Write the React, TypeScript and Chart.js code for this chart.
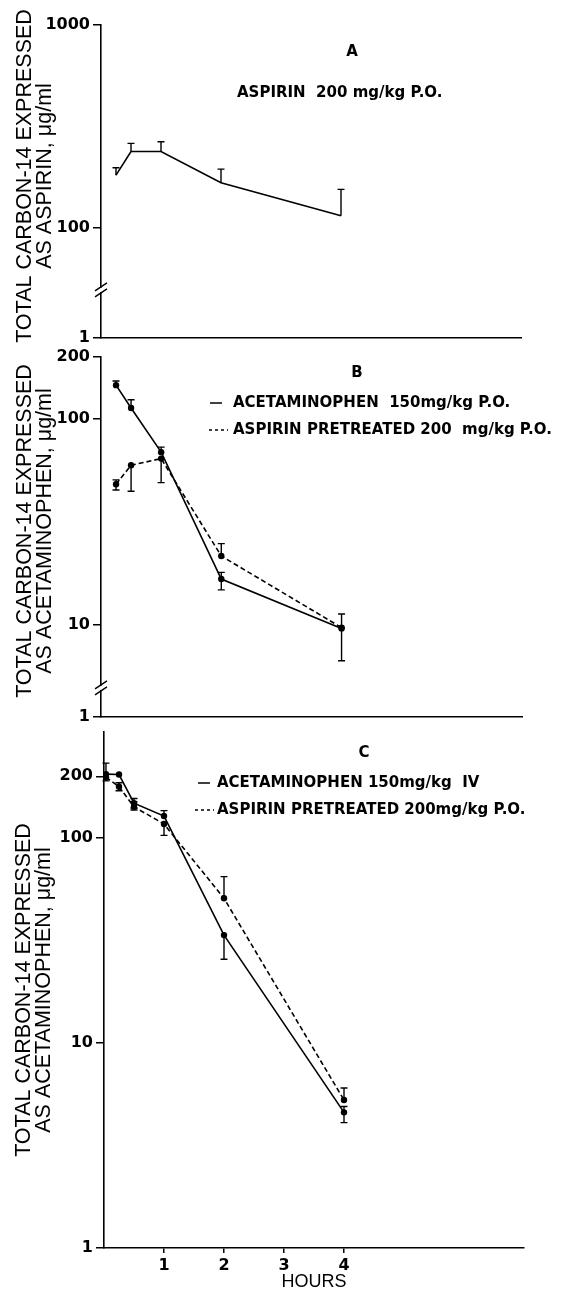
import React, { useEffect, useRef } from 'react';
import { Chart, registerables } from 'chart.js';

Chart.register(...registerables);

// ---------------- data ----------------
// Panel A: aspirin 200 mg/kg P.O.
const hoursA = [0.25, 0.5, 1, 2, 4];
const aspirinA = [182, 238, 238, 167, 115];
const aspirinAUpper = [198, 261, 266, 195, 155];

// Panel B: acetaminophen 150 mg/kg P.O. (solid) and aspirin pretreated (dashed)
const hoursB = [0.25, 0.5, 1, 2, 4];
const acetPoB = [146, 113, 69, 16.7, 9.6];
const acetPoBUpper = [153, 124, 73, 18.0, 11.3];
const acetPoBLower = [146, 113, 69, 14.8, 6.7];
const pretreatB = [48.2, 59.6, 64.2, 21.6, 9.7];
const pretreatBUpper = [50.6, 59.6, 64.2, 24.8, 9.7];
const pretreatBLower = [45.2, 44.6, 49.1, 21.6, 9.7];

// Panel C: acetaminophen 150 mg/kg IV (solid) and aspirin pretreated (dashed)
const hoursC = [0.033, 0.25, 0.5, 1, 2, 4];
const acetIvC = [205, 204, 148, 128, 33.6, 4.59];
const acetIvCUpper = [232, 204, 156, 136, 33.6, 4.9];
const acetIvCLower = [205, 204, 140, 128, 25.6, 4.09];
const pretreatC = [198, 178, 142, 117, 50.8, 5.27];
const pretreatCUpper = [198, 186, 150, 117, 64.8, 6.03];
const pretreatCLower = [190, 170, 137, 103, 50.8, 5.27];

// axis ticks (broken axes: bottom tick is labelled "1")
const yTicksA = [28.7, 100, 1000];
const yTickLabelsA = ['1', '100', '1000'];
const yTicksB = [3.57, 10, 100, 200];
const yTickLabelsB = ['1', '10', '100', '200'];
const yTicksC = [1, 10, 100, 200];
const yTickLabelsC = ['1', '10', '100', '200'];
const xTicksC = [1, 2, 3, 4];
const xTickLabelsC = ['1', '2', '3', '4'];
const breakA = 49.5;
const breakB = 4.94;

const titleLine1 = 'TOTAL CARBON-14 EXPRESSED';
const titleA2 = 'AS ASPIRIN, \u03BCg/ml';
const titleB2 = 'AS ACETAMINOPHEN, \u03BCg/ml';

// ---------------- drawing helpers ----------------
const LBL = 'bold 15px "DejaVu Sans", sans-serif';
const TITLE_FONT = '21.5px "Liberation Sans", Arial, sans-serif';

const annotPlugin = {
  id: 'annot',
  afterDatasetsDraw(chart: any) {
    const ctx = chart.ctx;
    const xs = chart.scales.x;
    const ys = chart.scales.y;
    ctx.save();
    ctx.strokeStyle = '#000';
    ctx.lineWidth = 1.4;
    ctx.setLineDash([]);
    chart.data.datasets.forEach((ds: any) => {
      const up = ds.errUpper || [];
      const lo = ds.errLower || [];
      ds.data.forEach((p: any, i: number) => {
        const x = xs.getPixelForValue(p.x);
        const y = ys.getPixelForValue(p.y);
        const yu = up[i] != null ? ys.getPixelForValue(up[i]) : y;
        const yl = lo[i] != null ? ys.getPixelForValue(lo[i]) : y;
        if (Math.abs(yu - yl) < 0.5) return;
        ctx.beginPath();
        ctx.moveTo(x, yu);
        ctx.lineTo(x, yl);
        if (yu < y - 1) {
          ctx.moveTo(x - 3.5, yu);
          ctx.lineTo(x + 3.5, yu);
        }
        if (yl > y + 1) {
          ctx.moveTo(x - 3.5, yl);
          ctx.lineTo(x + 3.5, yl);
        }
        ctx.stroke();
      });
    });
    ctx.restore();
  },
  afterDraw(chart: any, _args: any, opts: any) {
    const ctx = chart.ctx;
    const ys = chart.scales.y;
    const { left } = chart.chartArea;
    const off = opts.top || 0;
    ctx.save();
    // axis break
    if (opts.breakAt != null) {
      const y0 = ys.getPixelForValue(opts.breakAt);
      ctx.fillStyle = '#fff';
      ctx.fillRect(left - 2, y0 - 2, 4, 4);
      ctx.strokeStyle = '#000';
      ctx.lineWidth = 1.4;
      ctx.beginPath();
      ctx.moveTo(left - 6, y0 + 1);
      ctx.lineTo(left + 6, y0 - 7);
      ctx.moveTo(left - 6, y0 + 7);
      ctx.lineTo(left + 6, y0 - 1);
      ctx.stroke();
    }
    // rotated y title
    if (opts.yTitle) {
      const t = opts.yTitle;
      ctx.fillStyle = '#000';
      ctx.font = TITLE_FONT;
      ctx.textAlign = 'center';
      ctx.textBaseline = 'middle';
      t.lines.forEach((ln: string, i: number) => {
        ctx.save();
        ctx.translate(t.xs[i], t.cy - off);
        ctx.rotate(-Math.PI / 2);
        ctx.fillText(ln, 0, 0);
        ctx.restore();
      });
    }
    // legend samples
    (opts.samples || []).forEach((s: any) => {
      ctx.strokeStyle = '#000';
      ctx.lineWidth = 1.5;
      ctx.setLineDash(s.dash || []);
      ctx.beginPath();
      ctx.moveTo(s.x1, s.y - off);
      ctx.lineTo(s.x2, s.y - off);
      ctx.stroke();
    });
    ctx.setLineDash([]);
    // texts
    (opts.texts || []).forEach((t: any) => {
      ctx.fillStyle = '#000';
      ctx.font = t.font || LBL;
      ctx.textAlign = t.align || 'left';
      ctx.textBaseline = 'middle';
      ctx.fillText(t.t, t.x, t.y - off);
    });
    ctx.restore();
  },
};

function pts(xs: number[], ys: number[]) {
  return xs.map((x, i) => ({ x, y: ys[i] }));
}

function lineDs(xs: number[], ys: number[], up: number[], lo: number[] | null, dashed: boolean, points: boolean) {
  return {
    data: pts(xs, ys),
    borderColor: '#000',
    borderWidth: 1.6,
    borderDash: dashed ? [5, 3] : [],
    pointRadius: points ? 3.2 : 0,
    pointBackgroundColor: '#000',
    pointBorderColor: '#000',
    pointBorderWidth: 0,
    tension: 0,
    fill: false,
    errUpper: up,
    errLower: lo,
  };
}

function yScale(min: number, max: number, ticks: number[], labels: string[], width: number) {
  return {
    type: 'logarithmic',
    position: 'left',
    min,
    max,
    afterBuildTicks: (s: any) => {
      s.ticks = ticks.map((v) => ({ value: v }));
    },
    afterFit: (s: any) => {
      s.width = width;
      s.paddingTop = 0;
      s.paddingBottom = 0;
    },
    ticks: {
      autoSkip: false,
      padding: 3,
      color: '#000',
      font: { family: 'DejaVu Sans', weight: 'bold', size: 16 },
      callback: (_v: any, i: number) => labels[i],
    },
    grid: { display: true, drawOnChartArea: false, drawTicks: true, tickLength: 8, color: '#000', lineWidth: 1.5 },
    border: { display: true, color: '#000', width: 1.6 },
  };
}

function xScaleHidden() {
  return {
    type: 'linear',
    min: 0,
    max: 7,
    ticks: { display: false },
    grid: { display: false },
    border: { display: true, color: '#000', width: 1.6 },
    afterFit: (s: any) => {
      s.height = 0;
      s.paddingLeft = 0;
      s.paddingRight = 0;
    },
  };
}

function baseOptions(padding: any, scales: any, annot: any) {
  return {
    animation: false,
    responsive: false,
    maintainAspectRatio: false,
    devicePixelRatio: 1,
    layout: { padding },
    plugins: { legend: { display: false }, tooltip: { enabled: false }, annot },
    scales,
  };
}

// ---------------- panel configs ----------------
const TOP_A = 0, H_A = 348;
const TOP_B = 348, H_B = 377;
const TOP_C = 725, H_C = 568;

function configA() {
  return {
    type: 'line',
    data: { datasets: [lineDs(hoursA, aspirinA, aspirinAUpper, null, false, false)] },
    options: baseOptions(
      { top: 25, bottom: H_A - 338, left: 0, right: 573 - 521 },
      { x: xScaleHidden(), y: yScale(yTicksA[0], 1000, yTicksA, yTickLabelsA, 101) },
      {
        top: TOP_A,
        breakAt: breakA,
        yTitle: { lines: [titleLine1, titleA2], xs: [25, 45], cy: 176 },
        texts: [
          { t: 'A', x: 352, y: 52, align: 'center' },
          { t: 'ASPIRIN  200 mg/kg P.O.', x: 237, y: 93 },
        ],
      }
    ),
    plugins: [annotPlugin],
  };
}

function configB() {
  return {
    type: 'line',
    data: {
      datasets: [
        lineDs(hoursB, acetPoB, acetPoBUpper, acetPoBLower, false, true),
        lineDs(hoursB, pretreatB, pretreatBUpper, pretreatBLower, true, true),
      ],
    },
    options: baseOptions(
      { top: 357 - TOP_B, bottom: TOP_B + H_B - 717, left: 0, right: 573 - 522 },
      { x: xScaleHidden(), y: yScale(yTicksB[0], 200, yTicksB, yTickLabelsB, 101) },
      {
        top: TOP_B,
        breakAt: breakB,
        yTitle: { lines: [titleLine1, titleB2], xs: [25, 45], cy: 531 },
        samples: [
          { x1: 210, x2: 222, y: 403 },
          { x1: 209, x2: 228, y: 430, dash: [3, 3] },
        ],
        texts: [
          { t: 'B', x: 357, y: 373, align: 'center' },
          { t: 'ACETAMINOPHEN  150mg/kg P.O.', x: 233, y: 403 },
          { t: 'ASPIRIN PRETREATED 200  mg/kg P.O.', x: 233, y: 430 },
        ],
      }
    ),
    plugins: [annotPlugin],
  };
}

function configC() {
  return {
    type: 'line',
    data: {
      datasets: [
        lineDs(hoursC, acetIvC, acetIvCUpper, acetIvCLower, false, true),
        lineDs(hoursC, pretreatC, pretreatCUpper, pretreatCLower, true, true),
      ],
    },
    options: baseOptions(
      { top: 732 - TOP_C, bottom: 0, left: 0, right: 573 - 524 },
      {
        x: {
          type: 'linear',
          min: 0,
          max: 7,
          afterBuildTicks: (s: any) => {
            s.ticks = xTicksC.map((v) => ({ value: v }));
          },
          afterFit: (s: any) => {
            s.height = TOP_C + H_C - 1248;
            s.paddingLeft = 0;
            s.paddingRight = 0;
          },
          ticks: {
            autoSkip: false,
            maxRotation: 0,
            padding: 3,
            color: '#000',
            font: { family: 'DejaVu Sans', weight: 'bold', size: 16 },
            callback: (_v: any, i: number) => xTickLabelsC[i],
          },
          grid: { display: true, drawOnChartArea: false, drawTicks: true, tickLength: 5, color: '#000', lineWidth: 1.5 },
          border: { display: true, color: '#000', width: 1.6 },
          title: {
            display: true,
            text: 'HOURS',
            color: '#000',
            font: { family: 'Liberation Sans', size: 18 },
            padding: { top: 0, bottom: 0 },
          },
        },
        y: yScale(1, 329, yTicksC, yTickLabelsC, 104),
      },
      {
        top: TOP_C,
        yTitle: { lines: [titleLine1, titleB2], xs: [24, 44], cy: 990 },
        samples: [
          { x1: 198, x2: 210, y: 783 },
          { x1: 195, x2: 214, y: 810, dash: [3, 3] },
        ],
        texts: [
          { t: 'C', x: 364, y: 753, align: 'center' },
          { t: 'ACETAMINOPHEN 150mg/kg  IV', x: 217, y: 783 },
          { t: 'ASPIRIN PRETREATED 200mg/kg P.O.', x: 217, y: 810 },
        ],
      }
    ),
    plugins: [annotPlugin],
  };
}

function Panel({ top, height, make }: { top: number; height: number; make: () => any }) {
  const ref = useRef<HTMLCanvasElement | null>(null);
  useEffect(() => {
    if (!ref.current) return;
    const chart = new Chart(ref.current, make());
    return () => chart.destroy();
  }, []);
  return (
    <canvas
      ref={ref}
      width={573}
      height={height}
      style={{ position: 'absolute', left: 0, top, width: 573, height, display: 'block' }}
    />
  );
}

export default function App() {
  return (
    <div style={{ position: 'absolute', left: 0, top: 0, width: 573, height: 1293, background: '#fff', overflow: 'hidden' }}>
      <Panel top={TOP_A} height={H_A} make={configA} />
      <Panel top={TOP_B} height={H_B} make={configB} />
      <Panel top={TOP_C} height={H_C} make={configC} />
    </div>
  );
}
